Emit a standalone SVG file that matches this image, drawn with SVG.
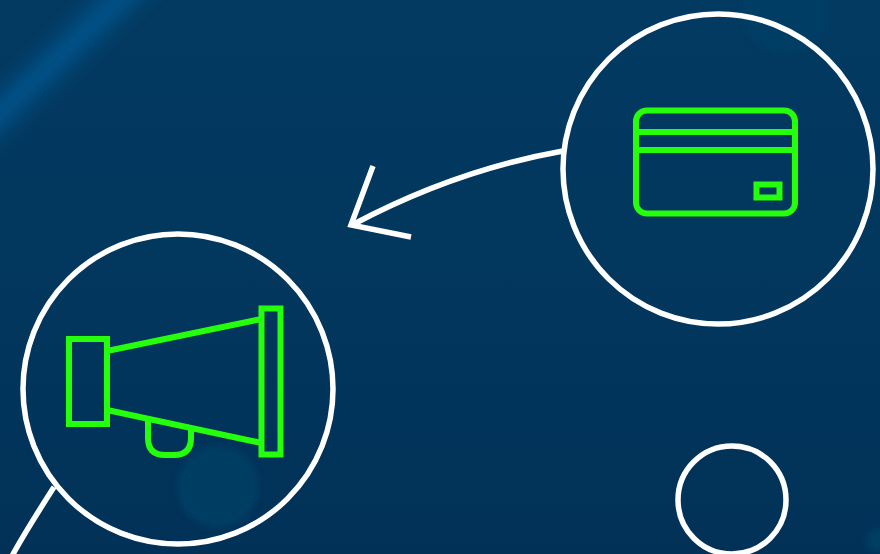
<svg xmlns="http://www.w3.org/2000/svg" width="880" height="554" viewBox="0 0 880 554">
<style>
.w{fill:none;stroke:#fff;stroke-width:5.500}
.g{fill:none;stroke:#25ff0b;stroke-width:6}
</style>
<defs>
<linearGradient id="bg" x1="0" y1="0" x2="0" y2="1">
<stop offset="0" stop-color="#023a61"/><stop offset="0.6" stop-color="#02365d"/><stop offset="1" stop-color="#013157"/>
</linearGradient>
<filter id="b1" x="-50%" y="-50%" width="200%" height="200%"><feGaussianBlur stdDeviation="11"/></filter>
<filter id="b2" x="-50%" y="-50%" width="200%" height="200%"><feGaussianBlur stdDeviation="3"/></filter>
</defs>
<g id="background">
<rect width="880" height="554" fill="url(#bg)"/>
<path d="M-30 142L150 -30" stroke="#04558f" stroke-width="24" fill="none" filter="url(#b1)"/>
<circle cx="218" cy="487" r="41" fill="#033c63" filter="url(#b2)"/>
<circle cx="786" cy="8" r="44" fill="#033e65" filter="url(#b2)"/>
<circle cx="878" cy="540" r="12" fill="#033c63" filter="url(#b2)"/>
</g>
<g id="connectors">
<path class="w" d="M563 151C490 164 420 189 354 224"/>
<path class="w" d="M373 166L351 225L411 237"/>
<path class="w" d="M54 487C38 512 24 534 12 556"/>
</g>
<g id="node-card">
<circle class="w" cx="718" cy="169" r="155"/>
<rect class="g" x="636" y="110.500" width="159" height="103" rx="11"/>
<path class="g" d="M636 132H795M636 150H795"/>
<rect class="g" x="756.500" y="184.500" width="23" height="13"/>
</g>
<g id="node-megaphone">
<circle class="w" cx="178" cy="389" r="155"/>
<rect class="g" x="69" y="339" width="38" height="85"/>
<rect class="g" x="261.500" y="308.500" width="19" height="146"/>
<path class="g" d="M107 351L261.500 319M107 410L261.500 443"/>
<path class="g" d="M148 420V438Q148 455 165 455H174Q191 455 191 438V429"/>
</g>
<g id="node-empty">
<circle class="w" cx="732" cy="500" r="54"/>
</g>
</svg>
